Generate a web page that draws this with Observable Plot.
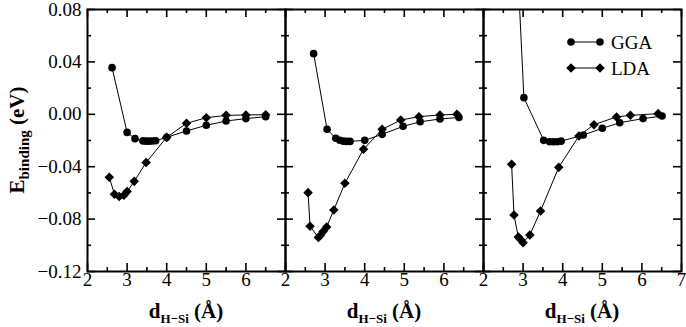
<!DOCTYPE html>
<html><head><meta charset="utf-8">
<script src="https://cdn.jsdelivr.net/npm/d3@7"></script>
<script src="https://cdn.jsdelivr.net/npm/@observablehq/plot@0.6"></script>
<style>
body{margin:0;background:#fff;}
#wrap{position:relative;width:686px;height:327px;}
#legend{position:absolute;left:0;top:0;pointer-events:none;}
</style></head><body><div id="wrap"></div>
<script>
const panels = ["a","b","c"];
const series = ["GGA","LDA"];

const ggaX1 = [2.62, 3.0, 3.2, 3.4, 3.48, 3.56, 3.64, 3.72, 4.0, 4.5, 5.0, 5.5, 6.0, 6.5];
const ggaY1 = [0.0356, -0.0138, -0.0186, -0.0203, -0.0205, -0.0205, -0.0204, -0.0202, -0.0176, -0.0127, -0.0084, -0.0051, -0.0033, -0.0018];
const ldaX1 = [2.55, 2.68, 2.8, 2.92, 3.0, 3.18, 3.48, 4.0, 4.5, 5.0, 5.5, 6.0, 6.5];
const ldaY1 = [-0.048, -0.061, -0.0628, -0.0618, -0.059, -0.0512, -0.0368, -0.0176, -0.0069, -0.0026, -0.0008, -0.0005, -0.0003];

const ggaX2 = [2.71, 3.05, 3.27, 3.37, 3.46, 3.54, 3.63, 4.0, 4.44, 4.97, 5.4, 5.9, 6.38];
const ggaY2 = [0.0463, -0.0115, -0.0183, -0.0198, -0.0205, -0.0207, -0.0207, -0.0199, -0.0153, -0.0092, -0.0057, -0.0036, -0.0024];
const ldaX2 = [2.57, 2.62, 2.83, 2.88, 2.95, 3.04, 3.22, 3.5, 3.97, 4.44, 4.91, 5.37, 5.9, 6.33];
const ldaY2 = [-0.0598, -0.0855, -0.094, -0.0925, -0.0895, -0.086, -0.073, -0.0527, -0.0267, -0.0115, -0.0044, -0.0018, -0.0005, 0.0];

const ggaX3 = [2.85, 3.02, 3.52, 3.67, 3.77, 3.86, 3.96, 4.52, 5.0, 5.44, 6.03, 6.51];
const ggaY3 = [0.12, 0.0127, -0.0199, -0.021, -0.021, -0.021, -0.0205, -0.0158, -0.0107, -0.0064, -0.0033, -0.0013];
const ldaX3 = [2.71, 2.77, 2.88, 2.93, 3.0, 3.17, 3.44, 3.9, 4.41, 4.79, 5.36, 5.71, 6.41];
const ldaY3 = [-0.0382, -0.0769, -0.0937, -0.0954, -0.098, -0.0921, -0.0738, -0.0405, -0.0165, -0.0079, -0.002, -0.0008, 0.0005];

const yTicks = [-0.12, -0.08, -0.04, 0, 0.04, 0.08];
const yMinor = [-0.1, -0.06, -0.02, 0.02, 0.06];
const xMajor = [2, 3, 4, 5, 6, 7];
const xMinor = [2.5, 3.5, 4.5, 5.5, 6.5];
const xLabelsA = [2, 3, 4, 5, 6];
const xLabelsB = [2, 3, 4, 5, 6];
const xLabelsC = [2, 3, 4, 5, 6, 7];

const rows = [];
function add(panel, s, xs, ys) { xs.forEach((x, i) => rows.push({panel, series: s, x, y: ys[i]})); }
add("a", "GGA", ggaX1, ggaY1); add("a", "LDA", ldaX1, ldaY1);
add("b", "GGA", ggaX2, ggaY2); add("b", "LDA", ldaX2, ldaY2);
add("c", "GGA", ggaX3, ggaY3); add("c", "LDA", ldaX3, ldaY3);
const labelRows = [
  ...xLabelsA.map(v => ({panel: "a", v})),
  ...xLabelsB.map(v => ({panel: "b", v})),
  ...xLabelsC.map(v => ({panel: "c", v}))
];

const width = 686, height = 327, mL = 86, mR = 5, mT = 9, mB = 56;
const H = height - mT - mB, W = (width - mL - mR) / 3;
const xDom = [2, 7], yDom = [-0.12, 0.08];
const pxX = (xDom[1] - xDom[0]) / W, pxY = (yDom[1] - yDom[0]) / H; // data units per pixel
const fmt = d => (d < 0 ? "\u2212" : "") + Math.abs(d).toFixed(2);
const tk = {stroke: "black", strokeWidth: 1.6};

// tick rows per facet
const perPanel = (vals, len) => panels.flatMap(p => vals.map(v => ({panel: p, v, len})));
const xTickRows = [...perPanel(xMajor, 8), ...perPanel(xMinor, 4)];
const yTickRows = [...perPanel(yTicks, 8), ...perPanel(yMinor, 4)];

const plot = Plot.plot({
  width, height, marginLeft: mL, marginRight: mR, marginTop: mT, marginBottom: mB,
  style: {fontFamily: "'Liberation Serif', serif", fontSize: "19px", color: "black", background: "white"},
  fx: {domain: panels, padding: 0, axis: null},
  x: {domain: xDom, axis: null},
  y: {domain: yDom, axis: null},
  marks: [
    Plot.line(rows, {x: "x", y: "y", z: "series", fx: "panel", stroke: "black", strokeWidth: 1, clip: true}),
    Plot.dot(rows.filter(d => d.series === "GGA"), {x: "x", y: "y", fx: "panel", symbol: "circle", r: 3.8, fill: "black", clip: true}),
    Plot.dot(rows.filter(d => d.series === "LDA"), {x: "x", y: "y", fx: "panel", symbol: "diamond2", r: 4.3, fill: "black", clip: true}),
    // inward ticks: bottom, top, left, right
    Plot.ruleX(xTickRows, {x: "v", fx: "panel", y1: () => yDom[0], y2: d => yDom[0] + d.len * pxY, ...tk}),
    Plot.ruleX(xTickRows, {x: "v", fx: "panel", y1: () => yDom[1], y2: d => yDom[1] - d.len * pxY, ...tk}),
    Plot.ruleY(yTickRows, {y: "v", fx: "panel", x1: () => xDom[0], x2: d => xDom[0] + d.len * pxX, ...tk}),
    Plot.ruleY(yTickRows, {y: "v", fx: "panel", x1: () => xDom[1], x2: d => xDom[1] - d.len * pxX, ...tk}),
    Plot.frame({stroke: "black", strokeWidth: 2}),
    Plot.axisY(yTicks, {anchor: "left", label: null, tickSize: 0, tickPadding: 6, tickFormat: fmt, fontSize: 19}),
    Plot.text(labelRows, {x: "v", fx: "panel", text: d => String(d.v), frameAnchor: "bottom", lineAnchor: "top", dy: 1, fontSize: 19})
  ]
});
document.getElementById("wrap").appendChild(plot);

// axis titles with subscripts
const svg = d3.select(plot);
const fx = plot.scale("fx");
panels.forEach(p => {
  const cx = fx.apply(p) + fx.bandwidth / 2;
  const t = svg.append("text").attr("x", cx).attr("y", 318).attr("text-anchor", "middle")
    .attr("font-family", "'Liberation Serif', serif").attr("font-weight", "bold").attr("font-size", 21).attr("fill", "black");
  t.append("tspan").text("d");
  t.append("tspan").attr("font-size", 13).attr("dy", 5).text("H\u2212Si");
  t.append("tspan").attr("dy", -5).text(" (\u00C5)");
});
const yt = svg.append("text").attr("transform", `translate(24,${mT + H / 2}) rotate(-90)`).attr("text-anchor", "middle")
  .attr("font-family", "'Liberation Serif', serif").attr("font-weight", "bold").attr("font-size", 21).attr("fill", "black");
yt.append("tspan").text("E");
yt.append("tspan").attr("font-size", 15).attr("dy", 5).text("binding");
yt.append("tspan").attr("dy", -5).text(" (eV)");

// legend overlay
const leg = d3.select("#wrap").append("svg").attr("id", "legend").attr("width", width).attr("height", height);
const legSym = {GGA: d3.symbol(d3.symbolCircle, Math.PI * 3.8 * 3.8), LDA: d3.symbol(d3.symbolDiamond2, Math.PI * 4.3 * 4.3)};
series.forEach((s, i) => {
  const y = 42 + i * 26;
  const g = leg.append("g");
  g.append("line").attr("x1", 571).attr("x2", 600).attr("y1", y).attr("y2", y).attr("stroke", "black").attr("stroke-width", 1);
  [571, 600].forEach(x => g.append("path").attr("d", legSym[s]()).attr("transform", `translate(${x},${y})`).attr("fill", "black"));
  g.append("text").attr("x", 611).attr("y", y + 6.5).attr("font-family", "'Liberation Serif', serif").attr("font-size", 19).attr("fill", "black").text(s);
});
</script></body></html>
